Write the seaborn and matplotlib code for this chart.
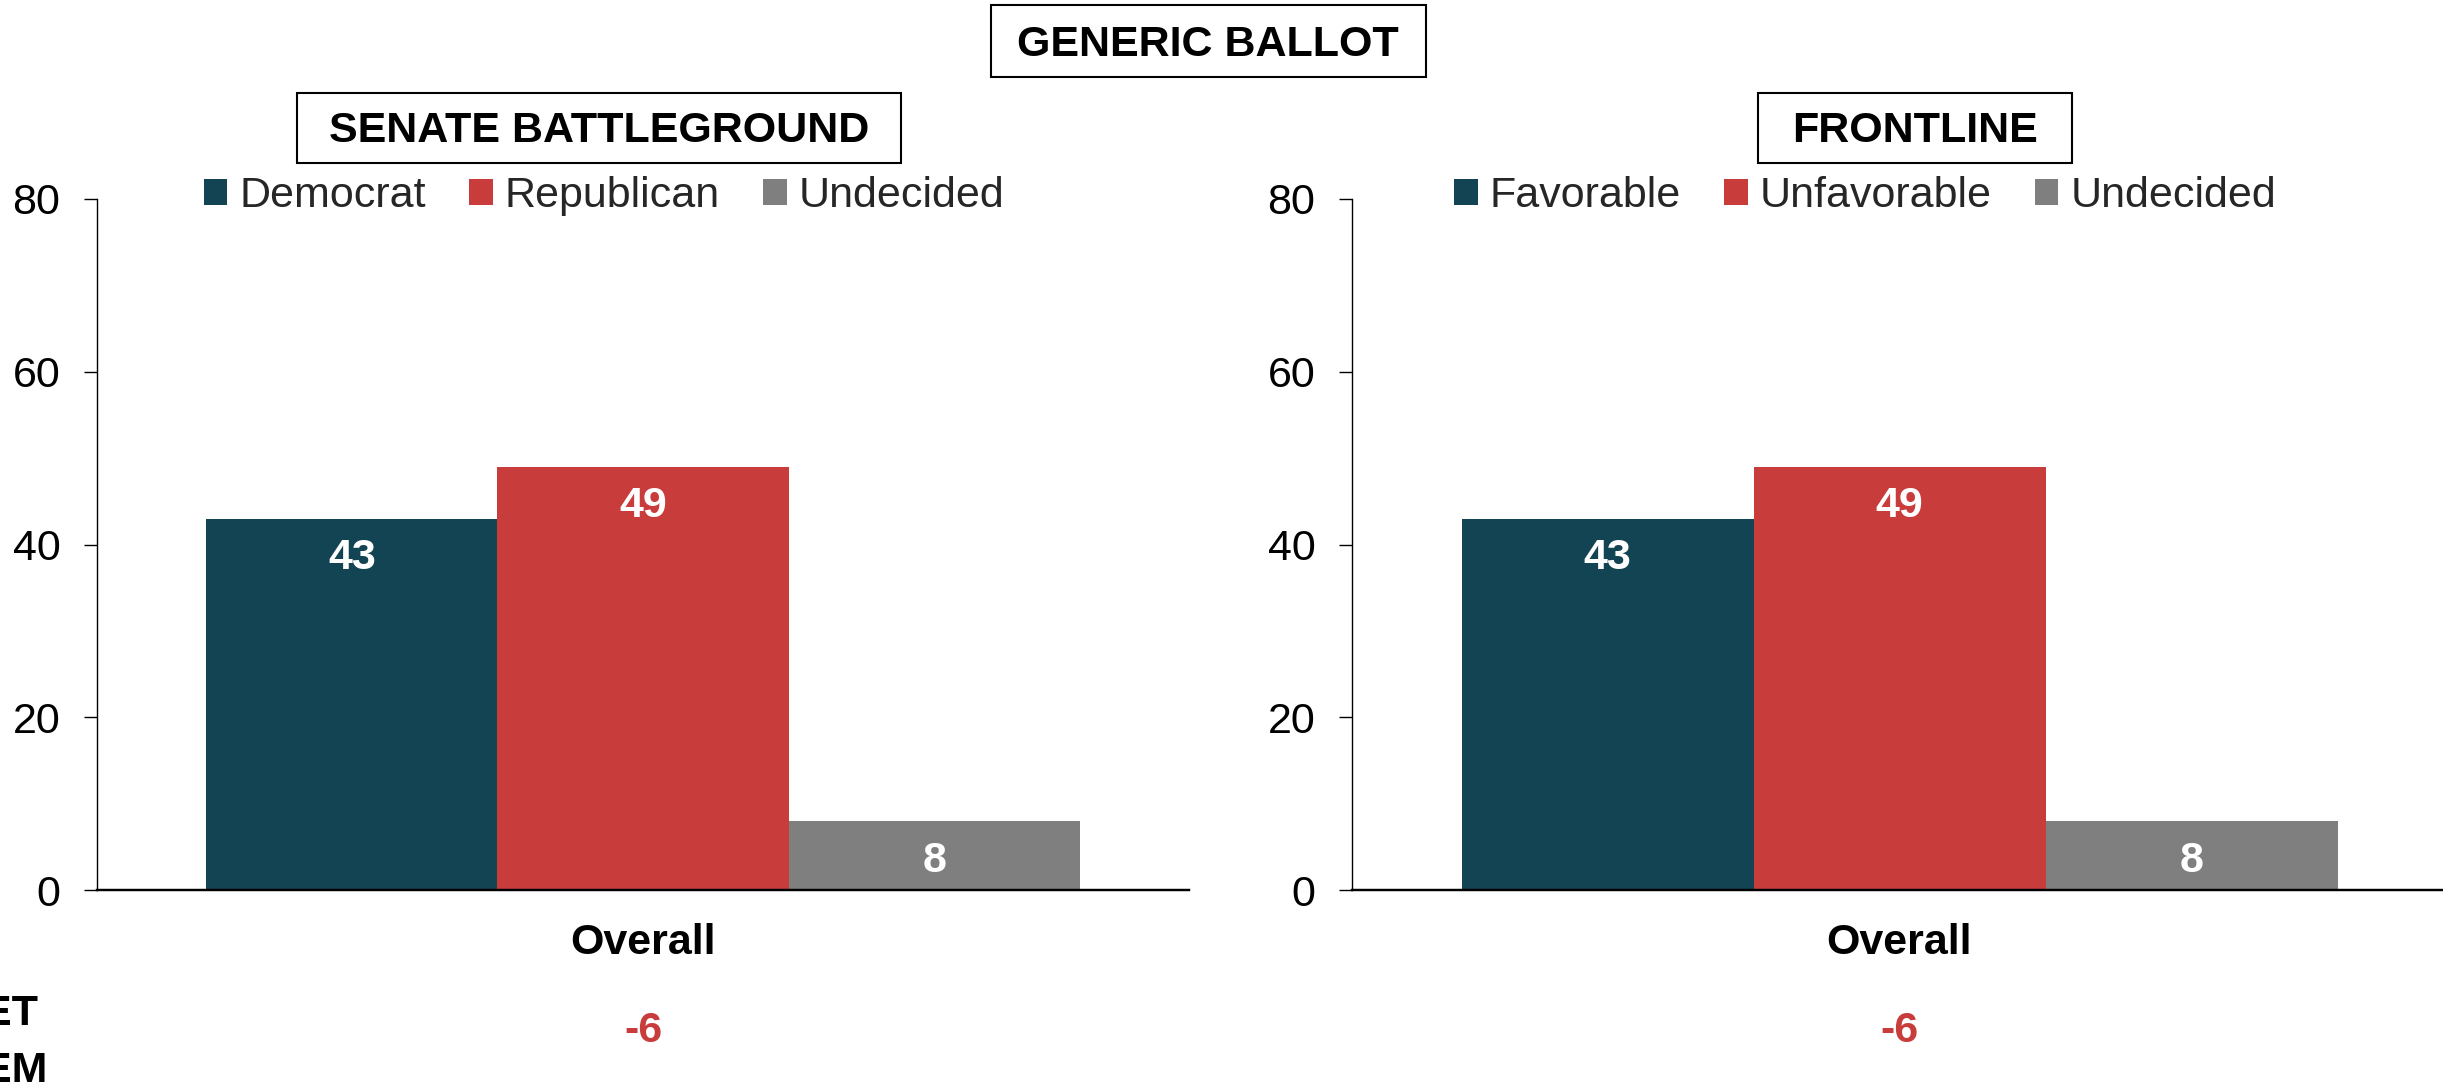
import matplotlib
matplotlib.use("Agg")
import matplotlib.pyplot as plt
import seaborn as sns
import pandas as pd
from matplotlib.patches import Rectangle

# ---------------- data ----------------
main_title = "GENERIC BALLOT"
panel_titles = ["SENATE BATTLEGROUND", "FRONTLINE"]
category = ["Overall"]
left_series = ["Democrat", "Republican", "Undecided"]
left_values = [43, 49, 8]
right_series = ["Favorable", "Unfavorable", "Undecided"]
right_values = [43, 49, 8]
net_label = "NET\nDEM"
net_values = ["-6", "-6"]
y_ticks = [0, 20, 40, 60, 80]

colors = ["#134453", "#C83C3C", "#7F7F7F"]
net_color = "#C83C3C"

# ---------------- style ----------------
sns.set_theme(style="white")
plt.rcParams['font.family'] = ['Liberation Sans', 'DejaVu Sans']

W, H = 2443, 1090
fig = plt.figure(figsize=(W / 100, H / 100), dpi=100)


def fx(px):
    return px / W


def fy(py):
    return 1 - py / H


FS = 31
top_px, bottom_px = 199, 890
panels = [
    dict(left=97, width=1092, series=left_series, values=left_values,
         legend_x=604, title=panel_titles[0], box=(297, 901), net=net_values[0]),
    dict(left=1352, width=1095, series=right_series, values=right_values,
         legend_x=1865, title=panel_titles[1], box=(1758, 2072), net=net_values[1]),
]

for p in panels:
    df = pd.DataFrame({
        "group": category * len(p["series"]),
        "series": p["series"],
        "value": p["values"],
    })
    ax = fig.add_axes([fx(p["left"]), fy(bottom_px), p["width"] / W,
                       (bottom_px - top_px) / H])
    sns.barplot(data=df, x="group", y="value", hue="series",
                hue_order=p["series"], palette=colors, saturation=1,
                width=0.8, linewidth=0, ax=ax)
    ax.set_ylim(0, 80)
    ax.set_xlim(-0.5, 0.5)
    ax.set_yticks(y_ticks)
    ax.set_xlabel("")
    ax.set_ylabel("")
    sns.despine(ax=ax, top=True, right=True)
    ax.spines["left"].set_color("black")
    ax.spines["left"].set_linewidth(1.0)
    ax.spines["bottom"].set_color("black")
    ax.spines["bottom"].set_linewidth(1.75)
    ax.tick_params(axis="y", left=True, length=9.4, width=1.0, color="black",
                   pad=17, labelsize=FS, labelcolor="black")
    ax.tick_params(axis="x", bottom=False, length=0, pad=24, labelsize=FS,
                   labelcolor="black")
    for t in ax.get_xticklabels():
        t.set_fontweight("bold")

    for c in ax.containers:
        ax.bar_label(c, padding=-43, color="white", fontsize=FS,
                     fontweight="bold")

    handles, labels = ax.get_legend_handles_labels()
    ax.legend(handles, labels, loc="center",
              bbox_to_anchor=(fx(p["legend_x"]), fy(196)),
              bbox_transform=fig.transFigure, ncol=3, frameon=False,
              fontsize=FS, handlelength=0.55, handleheight=0.55,
              handletextpad=0.28, columnspacing=1.0, borderpad=0,
              borderaxespad=0)

    # net value under the category
    ax.text(0, (bottom_px - 1031) / (bottom_px - top_px), p["net"],
            transform=ax.get_xaxis_transform(), ha="center", va="center",
            color=net_color, fontsize=FS, fontweight="bold")

    # panel title box
    x0, x1 = p["box"]
    fig.add_artist(Rectangle((fx(x0), fy(163)), (x1 - x0) / W, 70 / H,
                             transform=fig.transFigure, fill=False,
                             edgecolor="black", linewidth=1.5))
    fig.text(fx((x0 + x1) / 2), fy(131), p["title"], ha="center", va="center",
             fontsize=FS, fontweight="bold", color="black")

# main title box
fig.add_artist(Rectangle((fx(991), fy(77)), 435 / W, 72 / H,
                         transform=fig.transFigure, fill=False,
                         edgecolor="black", linewidth=1.5))
fig.text(fx(1208), fy(45), main_title, ha="center", va="center",
         fontsize=FS, fontweight="bold", color="black")

# row label (cut off at left edge as in the original)
fig.text(fx(-48), fy(994), net_label, ha="left", va="top", fontsize=FS,
         fontweight="bold", color="black", linespacing=1.55)

fig.savefig("out.png", dpi=100)
